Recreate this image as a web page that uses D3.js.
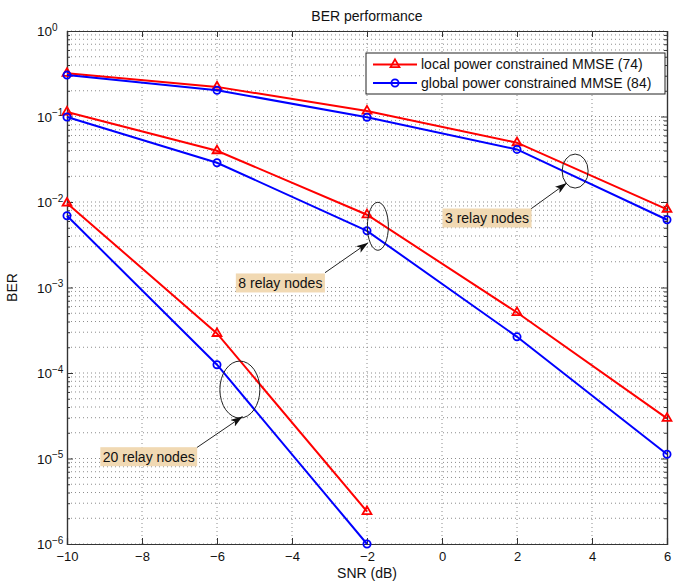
<!DOCTYPE html>
<meta charset="utf-8">
<script src="https://d3js.org/d3.v7.min.js"></script>
<style>
body { margin: 0; background: #fff; }
#ber-chart { font-family: "Liberation Sans", Arial, sans-serif; }
.grid line { stroke: #8c8c8c; stroke-width: 1; stroke-dasharray: 1,3; }
.frame-axis path { stroke: #333; }
.frame-axis line { stroke: #333; }
.frame-axis text { font-size: 13px; fill: #111; font-family: "Liberation Sans", Arial, sans-serif; }
</style>
<div id="ber-chart"></div>
<script>
// SNR points of the simulation
var snr = [-10, -6, -2, 2, 6];
var snr20 = [-10, -6, -2];

// BER
var local3   = [0.32, 0.222, 0.116, 0.0494, 0.0082];
var global3  = [0.305, 0.203, 0.098, 0.0412, 0.0062];
var local8   = [0.113, 0.0398, 0.0071, 5.1e-4, 2.95e-5];
var global8  = [0.0988, 0.0288, 0.0046, 2.65e-4, 1.12e-5];
var local20  = [0.0097, 2.9e-4, 2.4e-6];
var global20 = [0.0069, 1.25e-4, 1.0e-6];

var xTicks = [-10, -8, -6, -4, -2, 0, 2, 4, 6];
var yTicks = [1e-6, 1e-5, 1e-4, 1e-3, 1e-2, 1e-1, 1];
var yExp   = ["\u22126", "\u22125", "\u22124", "\u22123", "\u22122", "\u22121", "0"];

var legendLabels = ["local power constrained MMSE (74)", "global power constrained MMSE (84)"];

// annotations (in SNR / BER units)
var noteLabels   = ["3 relay nodes", "8 relay nodes", "20 relay nodes"];
var noteEllipse  = [[3.55, 0.023], [-1.71, 0.0052], [-5.39, 6.4e-5]];
var noteTip      = [[3.33, 0.0167], [-1.97, 0.00334], [-5.32, 3.1e-5]];
var noteTail     = [[2.37, 0.0083], [-3.12, 0.00149], [-6.54, 1.34e-5]];
var noteBox      = [[1.2, 0.0065], [-4.31, 0.00113], [-7.82, 1.05e-5]];

var margin = { top: 31, right: 19, bottom: 37, left: 67 },
    width = 686 - margin.left - margin.right,
    height = 581 - margin.top - margin.bottom;

var svgRoot = d3.select("#ber-chart")
    .append("svg")
    .attr("width", 686)
    .attr("height", 581);

svgRoot.append("defs").append("marker")
    .attr("id", "arrowhead")
    .attr("viewBox", "0 0 12 8")
    .attr("refX", 12)
    .attr("refY", 4)
    .attr("markerWidth", 12)
    .attr("markerHeight", 8)
    .attr("markerUnits", "userSpaceOnUse")
    .attr("orient", "auto")
    .append("path")
    .attr("d", "M0,0 L12,4 L0,8 L3,4 Z")
    .attr("fill", "#111");

var svg = svgRoot.append("g")
    .attr("transform", "translate(" + margin.left + "," + margin.top + ")");

var x = d3.scaleLinear().domain([-10, 6]).range([0, width]);
var y = d3.scaleLog().domain([1e-6, 1]).range([height, 0]);

// dotted grid
var grid = svg.append("g").attr("class", "grid");
grid.selectAll(".hg")
    .data(y.ticks())
    .enter().append("line")
    .attr("x1", 0).attr("x2", width)
    .attr("y1", function(d) { return y(d); })
    .attr("y2", function(d) { return y(d); });
grid.selectAll(".vg")
    .data(xTicks.slice(1, -1))
    .enter().append("line")
    .attr("y1", 0).attr("y2", height)
    .attr("x1", function(d) { return x(d); })
    .attr("x2", function(d) { return x(d); });

// axes, ticks pointing inward like matlab
svg.append("g")
    .attr("class", "frame-axis")
    .attr("transform", "translate(0," + height + ")")
    .call(d3.axisBottom(x).tickValues(xTicks).tickSize(-6).tickPadding(8)
        .tickFormat(function(d) { return d < 0 ? "\u2212" + Math.abs(d) : d; }));
svg.append("g")
    .attr("class", "frame-axis")
    .call(d3.axisTop(x).tickValues(xTicks).tickSize(-6).tickFormat(""));

var minorY = y.ticks().filter(function(d) { return yTicks.indexOf(d) < 0; });
svg.append("g")
    .attr("class", "frame-axis")
    .call(d3.axisLeft(y).tickValues(minorY).tickSize(-3).tickFormat(""));
svg.append("g")
    .attr("class", "frame-axis")
    .attr("transform", "translate(" + width + ",0)")
    .call(d3.axisRight(y).tickValues(minorY).tickSize(-3).tickFormat(""));
svg.append("g")
    .attr("class", "frame-axis")
    .attr("transform", "translate(" + width + ",0)")
    .call(d3.axisRight(y).tickValues(yTicks).tickSize(-6).tickFormat(""));

var yAxis = svg.append("g")
    .attr("class", "frame-axis")
    .call(d3.axisLeft(y).tickValues(yTicks).tickSize(-6).tickFormat(""));
yAxis.selectAll(".tick").each(function(d, i) {
    var t = d3.select(this).append("text")
        .attr("x", -30)
        .attr("dy", "0.34em")
        .attr("text-anchor", "start")
        .attr("fill", "#111")
        .style("font-size", "13.5px");
    t.append("tspan").text("10");
    t.append("tspan").attr("dy", "-0.55em").style("font-size", "10px").text(yExp[i]);
});

svg.selectAll(".frame-axis .domain").attr("stroke-width", 1.2);

// curves
var series = [
    { xs: snr,   ys: local3,   color: "#ff0000", mk: "tri" },
    { xs: snr,   ys: global3,  color: "#0000ff", mk: "circ" },
    { xs: snr,   ys: local8,   color: "#ff0000", mk: "tri" },
    { xs: snr,   ys: global8,  color: "#0000ff", mk: "circ" },
    { xs: snr20, ys: local20,  color: "#ff0000", mk: "tri" },
    { xs: snr20, ys: global20, color: "#0000ff", mk: "circ" }
];

var line = d3.line()
    .x(function(d) { return x(d[0]); })
    .y(function(d) { return y(d[1]); });

var tri = d3.symbol().type(d3.symbolTriangle).size(34);

series.forEach(function(s) {
    var pts = s.xs.map(function(v, i) { return [v, s.ys[i]]; });
    svg.append("path")
        .datum(pts)
        .attr("d", line)
        .attr("fill", "none")
        .attr("stroke", s.color)
        .attr("stroke-width", 2);
    if (s.mk == "tri") {
        svg.selectAll(null).data(pts).enter().append("path")
            .attr("d", tri)
            .attr("transform", function(d) { return "translate(" + x(d[0]) + "," + y(d[1]) + ")"; })
            .attr("fill", "none")
            .attr("stroke", s.color)
            .attr("stroke-width", 1.8);
    } else {
        svg.selectAll(null).data(pts).enter().append("circle")
            .attr("cx", function(d) { return x(d[0]); })
            .attr("cy", function(d) { return y(d[1]); })
            .attr("r", 3.6)
            .attr("fill", "none")
            .attr("stroke", s.color)
            .attr("stroke-width", 1.8);
    }
});

// annotations
var ellSize = [[13, 17], [10.5, 24], [20, 28.5]];
noteLabels.forEach(function(lbl, i) {
    svg.append("ellipse")
        .attr("cx", x(noteEllipse[i][0]))
        .attr("cy", y(noteEllipse[i][1]))
        .attr("rx", ellSize[i][0])
        .attr("ry", ellSize[i][1])
        .attr("fill", "none")
        .attr("stroke", "#222")
        .attr("stroke-width", 1);
    svg.append("line")
        .attr("x1", x(noteTail[i][0])).attr("y1", y(noteTail[i][1]))
        .attr("x2", x(noteTip[i][0])).attr("y2", y(noteTip[i][1]))
        .attr("stroke", "#222")
        .attr("stroke-width", 1)
        .attr("marker-end", "url(#arrowhead)");
    var g = svg.append("g");
    var rect = g.append("rect").attr("fill", "#f1d9b3");
    var txt = g.append("text")
        .attr("x", x(noteBox[i][0]))
        .attr("y", y(noteBox[i][1]))
        .attr("dy", "0.35em")
        .attr("text-anchor", "middle")
        .attr("font-size", "14px")
        .attr("fill", "#111")
        .text(lbl);
    var w = txt.node().getComputedTextLength() + 5;
    rect.attr("x", x(noteBox[i][0]) - w / 2)
        .attr("y", y(noteBox[i][1]) - 9.5)
        .attr("width", w)
        .attr("height", 19);
});

// legend
var legend = svg.append("g").attr("transform", "translate(" + (width - 301) + ",22)");
legend.append("rect")
    .attr("x", 0).attr("y", 0)
    .attr("width", 299).attr("height", 41)
    .attr("fill", "#fff")
    .attr("stroke", "#222")
    .attr("stroke-width", 1);
legendLabels.forEach(function(lbl, i) {
    var ly = 11.5 + i * 18.5;
    var col = i == 0 ? "#ff0000" : "#0000ff";
    legend.append("line")
        .attr("x1", 7).attr("x2", 51)
        .attr("y1", ly).attr("y2", ly)
        .attr("stroke", col).attr("stroke-width", 2);
    if (i == 0) {
        legend.append("path").attr("d", tri)
            .attr("transform", "translate(29," + ly + ")")
            .attr("fill", "none").attr("stroke", col).attr("stroke-width", 1.8);
    } else {
        legend.append("circle").attr("cx", 29).attr("cy", ly).attr("r", 3.6)
            .attr("fill", "none").attr("stroke", col).attr("stroke-width", 1.8);
    }
    legend.append("text")
        .attr("x", 55).attr("y", ly)
        .attr("dy", "0.35em")
        .attr("font-size", "14px")
        .attr("fill", "#111")
        .text(lbl);
});

// labels
svg.append("text")
    .attr("x", width / 2).attr("y", -10)
    .attr("text-anchor", "middle")
    .attr("font-size", "14px")
    .attr("fill", "#111")
    .text("BER performance");
svg.append("text")
    .attr("x", width / 2).attr("y", height + 34)
    .attr("text-anchor", "middle")
    .attr("font-size", "14px")
    .attr("fill", "#111")
    .text("SNR (dB)");
svg.append("text")
    .attr("transform", "translate(" + (-50) + "," + (height / 2) + ")rotate(-90)")
    .attr("text-anchor", "middle")
    .attr("font-size", "14px")
    .attr("fill", "#111")
    .text("BER");
</script>
